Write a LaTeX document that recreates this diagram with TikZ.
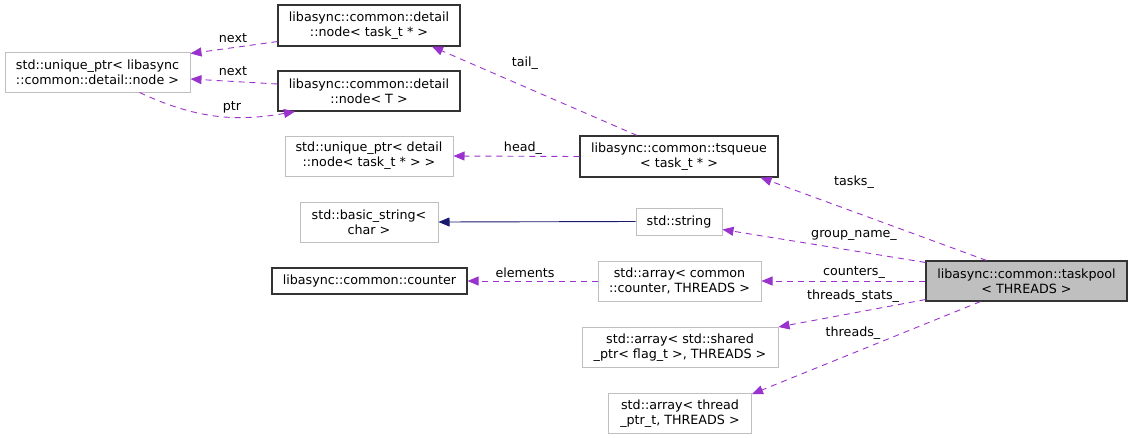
\documentclass[tikz,border=0pt]{standalone}
\usepackage{fontspec}
\setmainfont{DejaVu Sans}
\usetikzlibrary{arrows.meta}
\definecolor{edgepurple}{RGB}{154,50,205}
\definecolor{edgenavy}{RGB}{25,25,112}
\definecolor{boxgray}{RGB}{191,191,191}

\begin{document}
\begin{tikzpicture}[x=1pt, y=-1pt,
    every node/.style={font=\fontsize{12.7}{15}\selectfont},
    cls/.style={draw=black!80, line width=1.1pt, align=center, inner sep=0pt},
    ext/.style={draw=boxgray, line width=1pt, align=center, inner sep=0pt},
    member/.style={-{Triangle[length=11pt,width=9pt]}, edgepurple, dash pattern=on 6pt off 5pt, line width=0.9pt},
    inherit/.style={-{Triangle[length=11pt,width=9pt]}, edgenavy, line width=0.9pt},
    lbl/.style={inner sep=0pt}]
    \useasboundingbox (0,0) rectangle (1132,437);
    % class boxes
    \node[ext, minimum width=185pt, minimum height=40pt] (uptrnode) at (97.5,72) {std::unique\_ptr< libasync\\::common::detail::node >};
    \node[cls, minimum width=182pt, minimum height=41pt] (nodetask) at (369,25.5) {libasync::common::detail\\::node< task\_t * >};
    \node[cls, minimum width=182pt, minimum height=40pt] (nodeT) at (369,91) {libasync::common::detail\\::node< T >};
    \node[ext, minimum width=168pt, minimum height=40pt] (uptrdetail) at (369,156) {std::unique\_ptr< detail\\::node< task\_t * > >};
    \node[cls, minimum width=198pt, minimum height=41pt] (tsqueue) at (679,156.5) {libasync::common::tsqueue\\< task\_t * >};
    \node[ext, minimum width=138pt, minimum height=40pt] (basicstr) at (369,222) {std::basic\_string<\\char >};
    \node[ext, minimum width=86pt, minimum height=27pt] (str) at (679,221.5) {std::string};
    \node[cls, minimum width=195pt, minimum height=26pt] (counter) at (369.5,281) {libasync::common::counter};
    \node[ext, minimum width=163pt, minimum height=40pt] (arrcounter) at (679.5,281) {std::array< common\\::counter, THREADS >};
    \node[ext, minimum width=196pt, minimum height=40pt] (arrshared) at (680,347.5) {std::array< std::shared\\\_ptr< flag\_t >, THREADS >};
    \node[ext, minimum width=143pt, minimum height=40pt] (arrthread) at (680,413.5) {std::array< thread\\\_ptr\_t, THREADS >};
    \node[cls, fill=boxgray, minimum width=201pt, minimum height=40pt] (taskpool) at (1026.5,281) {libasync::common::taskpool\\< THREADS >};
    % edge labels
    \node[lbl] (lnexta) at (233,38) {next};
    \node[lbl] (lnextb) at (233,71) {next};
    \node[lbl] (lptr) at (232,107) {ptr};
    \node[lbl] (ltail) at (525,63) {tail\_};
    \node[lbl] (lhead) at (523,148) {head\_};
    \node[lbl] (ltasks) at (854,182) {tasks\_};
    \node[lbl] (lgroup) at (854,235) {group\_name\_};
    \node[lbl] (lcounters) at (854,273) {counters\_};
    \node[lbl] (lelements) at (525,273) {elements};
    \node[lbl] (lstats) at (853,296) {threads\_stats\_};
    \node[lbl] (lthreads) at (853,333) {threads\_};
    % connectors
    \draw[member] ([yshift=5pt]nodetask.south west) -- ([yshift=-2pt]uptrnode.north east);
    \draw[member] ([yshift=7pt]nodeT.west) -- ([yshift=-7pt]uptrnode.east);
    \draw[member] ([xshift=42pt]uptrnode.south) to[out=-25, in=-170] ([xshift=-74pt]nodeT.south);
    \draw[member] ([xshift=-42pt]tsqueue.north) -- ([xshift=63pt]nodetask.south);
    \draw[member] (tsqueue.west) -- (uptrdetail.east);
    \draw[inherit] (str.west) -- (basicstr.east);
    \draw[member] ([xshift=-40pt]taskpool.north) -- ([xshift=-18pt]tsqueue.south east);
    \draw[member] ([yshift=-2pt]taskpool.north west) -- ([yshift=-8pt]str.east);
    \draw[member] (taskpool.west) -- (arrcounter.east);
    \draw[member] (arrcounter.west) -- (counter.east);
    \draw[member] ([yshift=2pt]taskpool.south west) -- (arrshared.north east);
    \draw[member] ([xshift=-46pt]taskpool.south) -- ([yshift=-1pt]arrthread.north east);
\end{tikzpicture}
\end{document}
